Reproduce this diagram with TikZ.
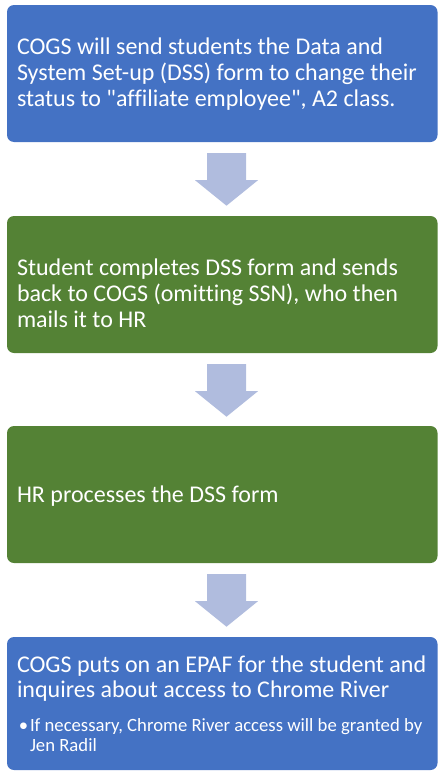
\documentclass[tikz,border=0pt]{standalone}
\usepackage{fontspec}
\setmainfont{Carlito}[Ligatures={TeXOff,CommonOff}]
\usetikzlibrary{calc}
\definecolor{boxblue}{RGB}{68,114,196}
\definecolor{boxgreen}{RGB}{84,130,53}
\definecolor{arrowfill}{RGB}{176,188,222}
\begin{document}
\begin{tikzpicture}[x=1pt,y=1pt,
  box/.style={rounded corners=7pt, minimum width=430.5pt, minimum height=137pt, inner sep=0pt, draw=none},
  txt/.style={text=white, align=left, inner sep=0pt, anchor=base west, font=\fontsize{24}{26.4}\selectfont},
  subtxt/.style={text=white, align=left, inner sep=0pt, anchor=base west, font=\fontsize{18.7}{20}\selectfont}]
\useasboundingbox (0,0) rectangle (438,-771);
\node[box, fill=boxblue]  (b1) at (222.25,-73.5) {};
\node[box, fill=boxgreen] (b2) at (222.25,-284.5) {};
\node[box, fill=boxgreen] (b3) at (222.25,-494.5) {};
\node[box, fill=boxblue, minimum height=133pt]  (b4) at (222.25,-703.5) {};
% base anchor of a multi-line node = baseline of its last line
\node[txt] (t1) at ($(b1.north west)+(10,-102)$) {COGS will send students the Data and\\System Set-up (DSS) form to change their\\status to "affiliate employee", A2 class.};
\node[txt] (t2) at ($(b2.north west)+(10,-112)$) {Student completes DSS form and sends\\back to COGS (omitting SSN), who then\\mails it to HR};
\node[txt] (t3) at ($(b3.north west)+(10,-77)$) {HR processes the DSS form};
\node[txt, font=\fontsize{24}{25.5}\selectfont] (t4) at ($(b4.north west)+(10,-61)$) {COGS puts on an EPAF for the student and\\inquires about access to Chrome River};
\node[subtxt] (t5b) at ($(b4.north west)+(12,-95)$) {•};
\node[subtxt] (t5) at ($(b4.north west)+(23,-115)$) {If necessary, Chrome River access will be granted by\\Jen Radil};
\foreach \u in {b1,b2,b3}{
  \coordinate (c) at ($(\u.south)+(4.25,0)$);
  \fill[arrowfill] ($(c)+(-19.5,-11)$) -- ($(c)+(19.5,-11)$) -- ($(c)+(19.5,-38)$) -- ($(c)+(31.5,-38)$)
     -- ($(c)+(0,-63.5)$) -- ($(c)+(-31.5,-38)$) -- ($(c)+(-19.5,-38)$) -- cycle;
}
\end{tikzpicture}
\end{document}
